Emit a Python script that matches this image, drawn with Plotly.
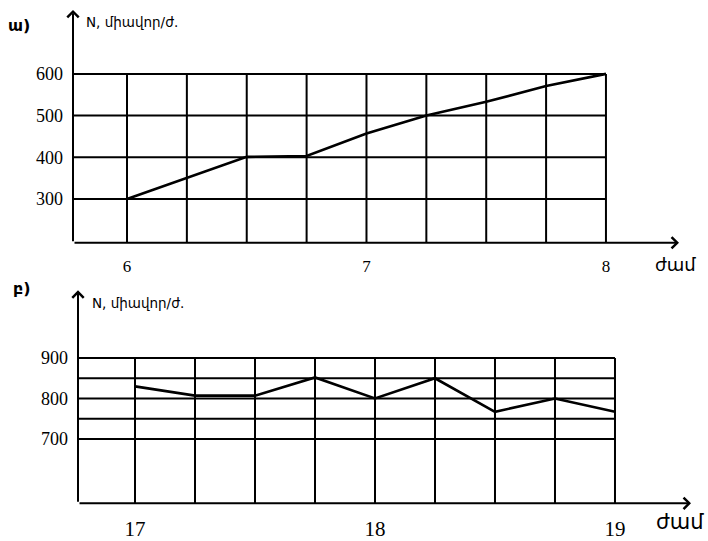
import plotly.graph_objects as go

# ---- data ----
top_hours = [6, 6.25, 6.5, 6.75, 7, 7.25, 7.5, 7.75, 8]
top_values = [300, 350, 401, 403, 457, 500, 533, 571, 600]
top_grid_y = [300, 400, 500, 600]
top_xticks = [6, 7, 8]
top_yticks = [300, 400, 500, 600]

bot_hours = [17, 17.25, 17.5, 17.75, 18, 18.25, 18.5, 18.75, 19]
bot_values = [830, 807, 807, 852, 800, 850, 767, 800, 767]
bot_grid_y = [700, 750, 800, 850, 900]
bot_xticks = [17, 18, 19]
bot_yticks = [700, 800, 900]

W, H = 708, 541
def px(x):
    return x / W
def py(y):
    return 1 - y / H

top_xr = [5.7745, 8.305]
top_yr = [195.2, 753.4]
bot_xr = [16.7625, 19.3167]
bot_yr = [540.7, 1067.6]

fig = go.Figure()

def grid_trace(hours, grid_y, xr, yr, xa, ya):
    xs, ys = [], []
    for h in hours:
        xs += [h, h, None]
        ys += [yr[0], max(grid_y), None]
    for g in grid_y:
        xs += [xr[0], max(hours), None]
        ys += [g, g, None]
    return go.Scatter(x=xs, y=ys, mode="lines", line=dict(color="black", width=2),
                      xaxis=xa, yaxis=ya, hoverinfo="skip", showlegend=False)

fig.add_trace(grid_trace(top_hours, top_grid_y, top_xr, top_yr, "x", "y"))
fig.add_trace(go.Scatter(x=top_hours, y=top_values, mode="lines",
                         line=dict(color="black", width=2.6), xaxis="x", yaxis="y",
                         showlegend=False))
fig.add_trace(grid_trace(bot_hours, bot_grid_y, bot_xr, bot_yr, "x2", "y2"))
fig.add_trace(go.Scatter(x=bot_hours, y=bot_values, mode="lines",
                         line=dict(color="black", width=2.6), xaxis="x2", yaxis="y2",
                         showlegend=False))

serif = "Liberation Serif, Times New Roman, serif"
axcommon = dict(showgrid=False, zeroline=False, showline=False, ticks="",
                tickcolor="black", fixedrange=True)

fig.update_layout(
    width=W, height=H,
    margin=dict(l=0, r=0, t=0, b=0),
    paper_bgcolor="white", plot_bgcolor="white",
    showlegend=False,
    xaxis=dict(domain=[px(73), px(679)], range=top_xr, anchor="y",
               tickvals=top_xticks, ticktext=[str(v) for v in top_xticks],
               tickfont=dict(family=serif, size=17, color="black"),
               ticklabelstandoff=11, **axcommon),
    yaxis=dict(domain=[py(245), py(10)], range=top_yr, anchor="x",
               tickvals=top_yticks, ticktext=[str(v) for v in top_yticks],
               tickfont=dict(family=serif, size=18, color="black"),
               ticklabelstandoff=9, **axcommon),
    xaxis2=dict(domain=[px(78), px(691)], range=bot_xr, anchor="y2",
                tickvals=bot_xticks, ticktext=[str(v) for v in bot_xticks],
                tickfont=dict(family=serif, size=21, color="black"),
                ticklabelstandoff=11, **axcommon),
    yaxis2=dict(domain=[py(508), py(293)], range=bot_yr, anchor="x2",
                tickvals=bot_yticks, ticktext=[str(v) for v in bot_yticks],
                tickfont=dict(family=serif, size=18, color="black"),
                ticklabelstandoff=9, **axcommon),
)

# axes with arrow heads
def arrow(xref, yref, x0, y0, x1, y1):
    fig.add_annotation(x=x1, y=y1, ax=x0, ay=y0, xref=xref, yref=yref,
                       axref=xref, ayref=yref, text="", showarrow=True,
                       arrowhead=4, arrowsize=1.1, arrowwidth=2, arrowcolor="black",
                       standoff=0, startstandoff=0)

arrow("x", "y", top_xr[0], top_yr[0], top_xr[0], top_yr[1])
arrow("x", "y", top_xr[0], top_yr[0], top_xr[1], top_yr[0])
arrow("x2", "y2", bot_xr[0], bot_yr[0], bot_xr[0], bot_yr[1])
arrow("x2", "y2", bot_xr[0], bot_yr[0], bot_xr[1], bot_yr[0])

arm = "DejaVu Sans"
def label(text, x, y, size, xanchor="center", family=arm):
    fig.add_annotation(x=px(x), y=py(y), xref="paper", yref="paper", text=text,
                       showarrow=False, xanchor=xanchor, yanchor="middle",
                       font=dict(family=family, size=size, color="black"))

label("<b>ա)</b>", 19, 26, 16)
label("N, միավոր/ժ.", 84, 22, 13.5, xanchor="left")
label("ժամ", 675, 267, 18)
label("<b>բ)</b>", 22, 291, 16)
label("N, միավոր/ժ.", 90, 306, 13.5, xanchor="left")
label("ժամ", 680, 527, 21)

fig.write_html("out.html")
